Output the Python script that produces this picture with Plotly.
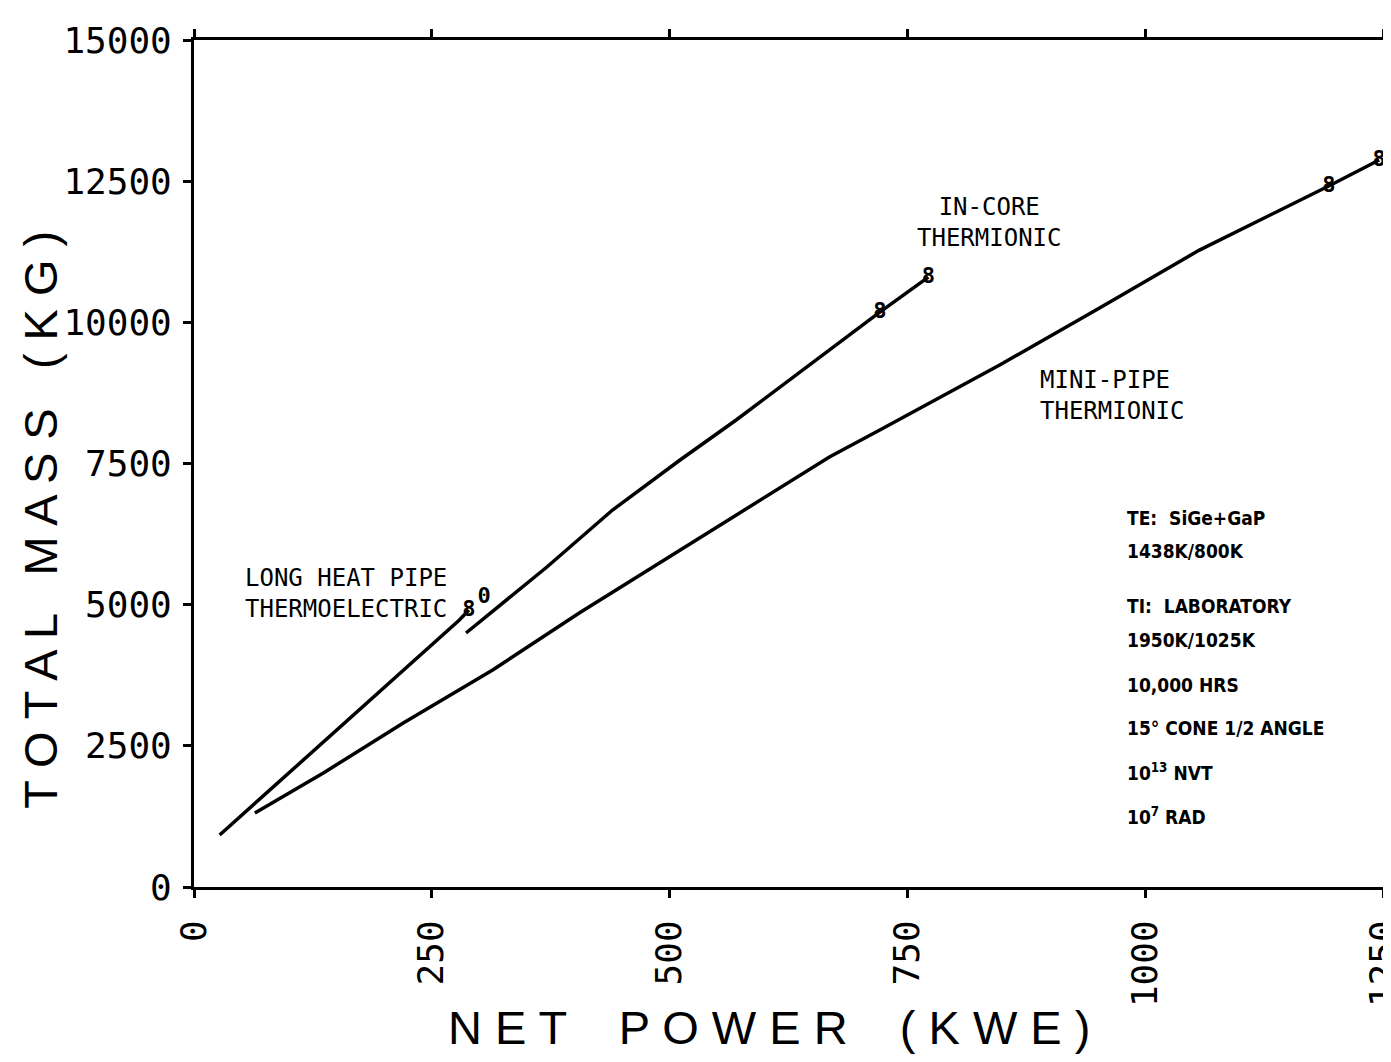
import plotly.graph_objects as go

# long heat pipe thermoelectric
te_power = [27, 129, 216, 279, 289]
te_mass = [921, 2461, 3790, 4728, 4905]
te_pts_power = [289]
te_pts_mass = [4905]

# in-core thermionic
ic_power = [286, 371, 440, 511, 570, 637, 721, 772]
ic_mass = [4498, 5667, 6676, 7562, 8270, 9120, 10182, 10802]
ic_pts_power = [305, 721, 772]
ic_pts_mass = [5135, 10182, 10802]
ic_pts_sym = ["0", "8", "8"]

# mini-pipe thermionic
mp_power = [64, 136, 220, 314, 405, 511, 616, 668, 721, 847, 952, 1057, 1193, 1246]
mp_mass = [1310, 2019, 2904, 3843, 4852, 5968, 7083, 7615, 8093, 9244, 10253, 11280, 12414, 12874]
mp_pts_power = [1193, 1246]
mp_pts_mass = [12414, 12874]

x_ticks = [0, 250, 500, 750, 1000, 1250]
y_ticks = [0, 2500, 5000, 7500, 10000, 12500, 15000]

notes = ["TE:  SiGe+GaP", "1438K/800K", "TI:  LABORATORY", "1950K/1025K",
         "10,000 HRS", "15° CONE 1/2 ANGLE", "10<sup>13</sup> NVT", "10<sup>7</sup> RAD"]
notes_y = [6535, 5950, 4976, 4374, 3577, 2816, 2037, 1257]

MONO = "DejaVu Sans Mono"
line = dict(color="black", width=3.5)

fig = go.Figure()
for xs, ys in [(te_power, te_mass), (ic_power, ic_mass), (mp_power, mp_mass)]:
    fig.add_trace(go.Scatter(x=xs, y=ys, mode="lines", line=line, showlegend=False,
                             hoverinfo="skip", cliponaxis=False))

pts_x = te_pts_power + ic_pts_power + mp_pts_power
pts_y = te_pts_mass + ic_pts_mass + mp_pts_mass
pts_t = ["8"] + ic_pts_sym + ["8", "8"]
fig.add_trace(go.Scatter(x=pts_x, y=pts_y, mode="text", text=pts_t,
                         textfont=dict(family=MONO, size=22, color="black", weight="bold"),
                         textposition="middle center", showlegend=False,
                         cliponaxis=False))

lbl = dict(family=MONO, size=24, color="black")
fig.add_annotation(x=51, y=5197, text="LONG HEAT PIPE<br>THERMOELECTRIC", showarrow=False,
                   xanchor="left", align="left", font=lbl)
fig.add_annotation(x=836, y=11776, text="IN-CORE<br>THERMIONIC", showarrow=False,
                   xanchor="center", align="center", font=lbl)
fig.add_annotation(x=887, y=8713, text="MINI-PIPE<br>THERMIONIC", showarrow=False,
                   xanchor="left", align="left", font=lbl)

note_font = dict(family="Liberation Sans Narrow, DejaVu Sans Condensed, Arial Narrow", size=19,
                 color="black", weight="bold")
for t, y in zip(notes, notes_y):
    fig.add_annotation(x=979, y=y, text="<b>" + t + "</b>", showarrow=False,
                       xanchor="left", yanchor="middle", font=note_font)

title_font = dict(family="Liberation Sans, DejaVu Sans", size=47, color="black", weight=300)
fig.add_annotation(xref="paper", yref="paper", x=-0.129, y=0.433,
                   text="T O T A L   M A S S   ( K G )", textangle=-90, showarrow=False,
                   xanchor="center", yanchor="middle", font=title_font)
fig.add_annotation(xref="paper", yref="paper", x=0.484, y=-0.166,
                   text="N E T    P O W E R    ( K W E )", showarrow=False,
                   xanchor="center", yanchor="middle", font=title_font)

axis_common = dict(showgrid=False, zeroline=False, showline=True, linecolor="black",
                   linewidth=3, mirror="allticks", ticks="outside", ticklen=8,
                   tickwidth=3, tickcolor="black", automargin=False,
                   ticklabeloverflow="allow",
                   tickfont=dict(family=MONO, size=36, color="black"))
fig.update_xaxes(range=[0, 1250], tickvals=x_ticks, ticktext=[str(v) for v in x_ticks],
                 tickangle=-90, ticklabelstandoff=8, **axis_common)
fig.update_yaxes(range=[0, 15000], tickvals=y_ticks, ticktext=[str(v) for v in y_ticks],
                 ticklabelstandoff=4, **axis_common)

# page body has an 8px margin, so the figure is offset and trimmed to fit the window
fig.update_layout(width=1375, height=1046, margin=dict(l=186, r=0, t=32, b=167),
                  plot_bgcolor="white", paper_bgcolor="white")
fig.write_html("out.html")
